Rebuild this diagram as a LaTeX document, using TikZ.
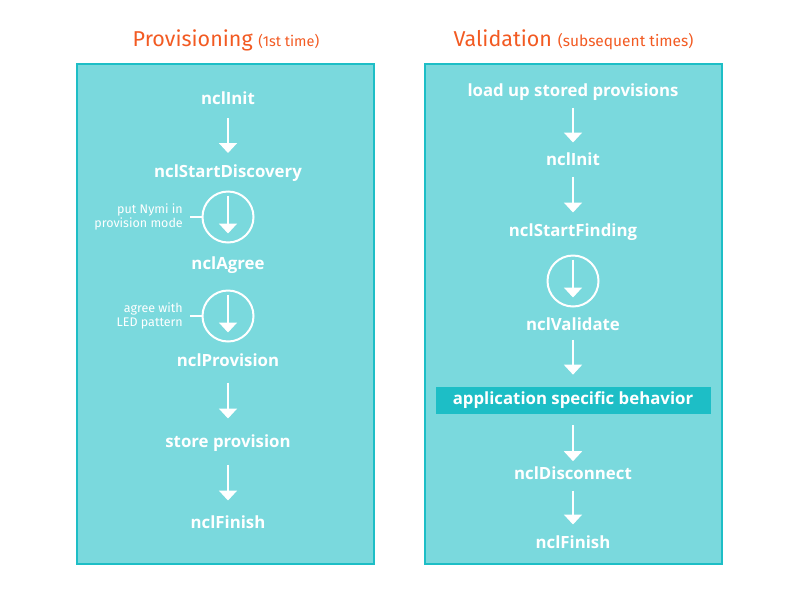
\documentclass[tikz,border=0pt]{standalone}
\usepackage{fontspec}
\setmainfont{Fira Sans}
\newfontfamily\stepfont{Open Sans}
\usetikzlibrary{arrows.meta,calc}
\definecolor{panelfill}{HTML}{7AD9DD}
\definecolor{paneledge}{HTML}{1DBEC6}
\definecolor{titleorange}{HTML}{F25A22}

\tikzset{
  panel/.style={draw=paneledge, fill=panelfill, line width=2pt},
  title/.style={text=titleorange, font=\fontsize{21.5}{25}\selectfont, anchor=base, inner sep=0pt},
  stepname/.style={text=white, font=\stepfont\fontsize{16.8}{19}\selectfont\bfseries, inner sep=0pt},
  flow/.style={draw=white, line width=2pt, -{Triangle[width=18pt,length=10pt]}},
  turn/.style={circle, draw=white, line width=2pt, minimum size=51pt, inner sep=0pt},
  note/.style={text=white, font=\fontsize{12.5}{13.5}\selectfont, align=right, anchor=east, inner sep=0pt},
}

\begin{document}
\begin{tikzpicture}[x=1pt, y=-1pt]
        \useasboundingbox (0,0) rectangle (800,600);

        % Panels
        \draw[panel] (77,64) rectangle (374,564);
        \draw[panel] (425,64) rectangle (722,564);

        % Titles
        \node[title] (provtitle) at (226,46) {Provisioning {\fontsize{14.5}{17}\selectfont(1st time)}};
        \node[title] (valtitle) at (573.5,46) {Validation {\fontsize{15.5}{17}\selectfont(subsequent times)}};

        % Provisioning steps
        \node[stepname] (pinit) at (228,98) {nclInit};
        \node[stepname] (pdisc) at (228,173) {nclStartDiscovery};
        \node[turn] (pturnA) at (228,217) {};
        \node[stepname] (pagree) at (228,265) {nclAgree};
        \node[turn] (pturnB) at (228,316) {};
        \node[stepname] (pprov) at (228,360) {nclProvision};
        \node[stepname] (pstore) at (228,443) {store provision};
        \node[stepname] (pfinish) at (228,522) {nclFinish};

        % Notes beside the circles
        \node[note] (noteA) at (183,217) {put Nymi in\\provision mode};
        \node[note] (noteB) at (183,316) {agree with\\LED pattern};
        \draw[white, line width=1.5pt] ([xshift=7pt]noteA.east) -- (pturnA.west);
        \draw[white, line width=1.5pt] ([xshift=7pt]noteB.east) -- (pturnB.west);

        % Provisioning arrows
        \draw[flow] ($(pinit)!0.5!(pdisc)+(0,-17.5)$) -- +(0,35);
        \draw[flow] ([yshift=-5pt]pturnA.north) -- ([yshift=10pt]pturnA.south);
        \draw[flow] ([yshift=-5pt]pturnB.north) -- ([yshift=10pt]pturnB.south);
        \draw[flow] ($(pprov)!0.5!(pstore)+(0,-19)$) -- +(0,36);
        \draw[flow] ($(pstore)!0.5!(pfinish)+(0,-18)$) -- +(0,36);

        % Validation steps
        \node[stepname] (vload) at (573,92) {load up stored provisions};
        \node[stepname] (vinit) at (573,159) {nclInit};
        \node[stepname] (vfind) at (573,232) {nclStartFinding};
        \node[turn] (vturn) at (573,281) {};
        \node[stepname] (vvalid) at (573,324) {nclValidate};
        \node[stepname, fill=paneledge, minimum width=275pt, minimum height=27pt] (vapp) at (573,400.5) {application specific behavior};
        \node[stepname] (vdisc) at (573,473) {nclDisconnect};
        \node[stepname] (vfinish) at (573,542) {nclFinish};

        % Validation arrows
        \draw[flow] ($(vload)!0.5!(vinit)+(0,-18)$) -- +(0,35);
        \draw[flow] ($(vinit)!0.5!(vfind)+(0,-19)$) -- +(0,36);
        \draw[flow] ([yshift=-5pt]vturn.north) -- ([yshift=10pt]vturn.south);
        \draw[flow] ($(vvalid.south)+(0,9)$) -- +(0,35);
        \draw[flow] ($(vapp.south)+(0,11)$) -- +(0,36);
        \draw[flow] ($(vdisc)!0.5!(vfinish)+(0,-17)$) -- +(0,34);
\end{tikzpicture}
\end{document}
